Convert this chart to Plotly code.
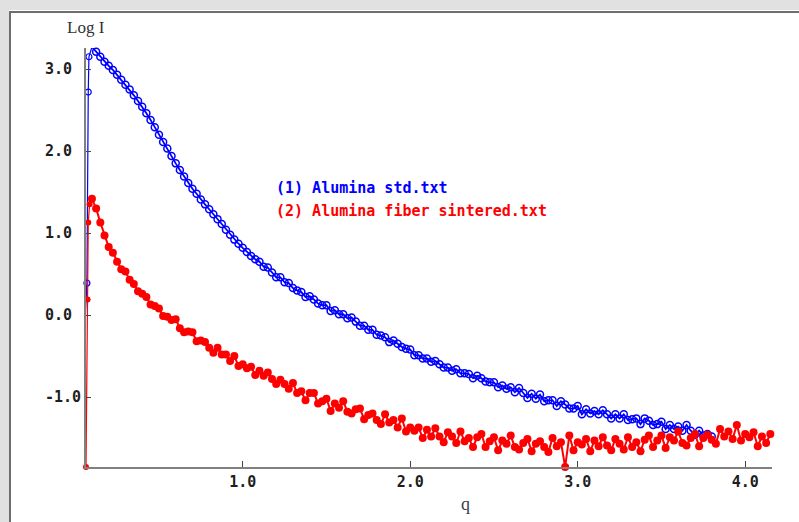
import plotly.graph_objects as go

# ---------------- data ----------------
Q_START = 0.10
Q_STEP = 0.025

# Lead-in points near the beam stop (before the peak)
BLUE_LEAD_Q = [0.058, 0.070, 0.078, 0.082]
BLUE_LEAD_Y = [-0.10, 0.39, 2.72, 3.15]
RED_LEAD_Q = [0.0645, 0.074, 0.078, 0.086]
RED_LEAD_Y = [-1.853, 0.19, 1.13, 1.35]

# (1) Alumina std.txt  -- Log I on regular q grid starting at Q_START
BLUE_Y = [
    3.27, 3.21, 3.15, 3.09, 3.04, 2.99, 2.93, 2.87, 2.81, 2.75,
    2.68, 2.61, 2.54, 2.46, 2.38, 2.29, 2.20, 2.11, 2.03, 1.94,
    1.85, 1.77, 1.69, 1.61, 1.54, 1.48, 1.41, 1.35, 1.29, 1.23,
    1.17, 1.11, 1.04, 0.98, 0.92, 0.87, 0.82, 0.77, 0.72, 0.68,
    0.65, 0.59, 0.58, 0.52, 0.46, 0.46, 0.40, 0.39, 0.33, 0.30,
    0.28, 0.22, 0.23, 0.19, 0.14, 0.12, 0.12, 0.05, 0.06, 0.01,
    0.01, -0.04, -0.03, -0.08, -0.13, -0.13, -0.18, -0.18, -0.24, -0.25,
    -0.27, -0.33, -0.31, -0.35, -0.39, -0.41, -0.42, -0.49, -0.49, -0.53,
    -0.53, -0.57, -0.56, -0.60, -0.64, -0.64, -0.68, -0.66, -0.71, -0.71,
    -0.72, -0.77, -0.74, -0.77, -0.81, -0.82, -0.82, -0.88, -0.86, -0.90,
    -0.88, -0.94, -0.89, -0.95, -1.01, -0.96, -1.02, -0.97, -1.05, -1.04,
    -1.04, -1.11, -1.05, -1.09, -1.14, -1.14, -1.11, -1.21, -1.15, -1.20,
    -1.17, -1.21, -1.16, -1.21, -1.26, -1.21, -1.26, -1.21, -1.28, -1.27,
    -1.26, -1.33, -1.26, -1.29, -1.34, -1.33, -1.30, -1.39, -1.34, -1.39,
    -1.36, -1.41, -1.34, -1.41, -1.46, -1.41, -1.47, -1.45, -1.48,
]

# (2) Alumina fiber sintered.txt -- Log I on the same q grid
RED_Y = [
    1.42, 1.30, 1.13, 0.97, 0.83, 0.76, 0.65, 0.56, 0.53, 0.43,
    0.38, 0.29, 0.26, 0.22, 0.13, 0.11, 0.08, -0.01, -0.02, -0.06,
    -0.05, -0.16, -0.21, -0.20, -0.21, -0.32, -0.31, -0.33, -0.40, -0.46,
    -0.40, -0.48, -0.48, -0.56, -0.50, -0.62, -0.60, -0.65, -0.63, -0.73,
    -0.68, -0.74, -0.70, -0.78, -0.84, -0.79, -0.84, -0.90, -0.83, -0.95,
    -0.93, -1.04, -0.95, -0.95, -1.08, -1.05, -1.02, -1.17, -1.08, -1.13,
    -1.05, -1.18, -1.20, -1.15, -1.14, -1.27, -1.22, -1.20, -1.28, -1.33,
    -1.21, -1.31, -1.28, -1.37, -1.26, -1.42, -1.37, -1.41, -1.37, -1.50,
    -1.40, -1.48, -1.38, -1.48, -1.55, -1.43, -1.48, -1.56, -1.42, -1.54,
    -1.50, -1.61, -1.49, -1.45, -1.61, -1.54, -1.49, -1.65, -1.53, -1.57,
    -1.47, -1.61, -1.64, -1.56, -1.51, -1.66, -1.57, -1.54, -1.61, -1.67,
    -1.50, -1.60, -1.55, -1.853, -1.47, -1.65, -1.55, -1.58, -1.51, -1.66,
    -1.53, -1.60, -1.49, -1.59, -1.65, -1.51, -1.57, -1.64, -1.49, -1.61,
    -1.55, -1.66, -1.52, -1.47, -1.61, -1.53, -1.47, -1.62, -1.49, -1.53,
    -1.42, -1.56, -1.59, -1.50, -1.45, -1.60, -1.50, -1.46, -1.52, -1.57,
    -1.39, -1.48, -1.42, -1.51, -1.34, -1.53, -1.45, -1.49, -1.43, -1.60,
    -1.48, -1.56, -1.45,
]

SERIES_NAMES = ["(1) Alumina std.txt", "(2) Alumina fiber sintered.txt"]
X_TICKS = [1.0, 2.0, 3.0, 4.0]
X_TICK_TEXT = ["1.0", "2.0", "3.0", "4.0"]
Y_TICKS = [-1.0, 0.0, 1.0, 2.0, 3.0]
Y_TICK_TEXT = ["-1.0", "0.0\u00a0", "1.0\u00a0", "2.0\u00a0", "3.0\u00a0"]
X_TITLE = "q"
Y_TITLE = "Log I"

BLUE = "#0000ff"
RED = "#ff0000"

# ---------------- figure ----------------
W, H = 799, 522
ML, MR, MT, MB = 86, 27, 48, 55
PW, PH = W - ML - MR, H - MT - MB


def px_x(p):
    return (p - ML) / PW


def px_y(p):
    return (H - MB - p) / PH


fig = go.Figure()

blue_line = dict(color=BLUE, width=1.8)
blue_marker = dict(symbol="circle-open", size=7, color=BLUE, line=dict(width=1.5, color=BLUE))
red_line = dict(color=RED, width=2)
red_marker = dict(symbol="circle", size=8, color=RED)

fig.add_trace(go.Scatter(
    x=BLUE_LEAD_Q + [Q_START], y=BLUE_LEAD_Y + [BLUE_Y[0]],
    mode="lines+markers", line=dict(color=BLUE, width=1.2),
    marker=dict(symbol="circle-open", size=6, color=BLUE, line=dict(width=1.2, color=BLUE)),
    name=SERIES_NAMES[0], showlegend=False, cliponaxis=False))
fig.add_trace(go.Scatter(
    x0=Q_START, dx=Q_STEP, y=BLUE_Y,
    mode="lines+markers", line=blue_line, marker=blue_marker,
    name=SERIES_NAMES[0], showlegend=False, cliponaxis=False))
fig.add_trace(go.Scatter(
    x=RED_LEAD_Q + [Q_START], y=RED_LEAD_Y + [RED_Y[0]],
    mode="lines+markers", line=dict(color=RED, width=1.2),
    marker=dict(symbol="circle", size=6, color=RED),
    name=SERIES_NAMES[1], showlegend=False, cliponaxis=False))
fig.add_trace(go.Scatter(
    x0=Q_START, dx=Q_STEP, y=RED_Y,
    mode="lines+markers", line=red_line, marker=red_marker,
    name=SERIES_NAMES[1], showlegend=False, cliponaxis=False))

tick_font = dict(family="DejaVu Sans Mono", size=15, color="#1e1e1e", weight="bold")

fig.update_xaxes(
    range=[0.0645, 4.160], tickvals=X_TICKS, ticktext=X_TICK_TEXT,
    ticks="inside", ticklen=6, tickwidth=1, tickcolor="#444444",
    showline=True, linecolor="#808080", linewidth=2,
    showgrid=False, zeroline=False, tickfont=tick_font)
fig.update_yaxes(
    range=[-1.853, 3.257], tickvals=Y_TICKS, ticktext=Y_TICK_TEXT,
    ticks="inside", ticklen=5, tickwidth=1, tickcolor="#444444",
    showline=True, linecolor="#808080", linewidth=2,
    showgrid=False, zeroline=False, tickfont=tick_font)

shapes = [
    dict(type="rect", xref="paper", yref="paper", layer="below",
         x0=px_x(9), x1=px_x(830), y0=px_y(560), y1=px_y(10),
         fillcolor="white", line=dict(width=0)),
    dict(type="line", xref="paper", yref="paper", layer="below",
         x0=px_x(9), x1=px_x(830), y0=px_y(12), y1=px_y(12),
         line=dict(color="#6e6e6e", width=2)),
    dict(type="line", xref="paper", yref="paper", layer="below",
         x0=px_x(10), x1=px_x(10), y0=px_y(11), y1=px_y(560),
         line=dict(color="#6e6e6e", width=2)),
]

annotations = [
    dict(text=Y_TITLE, xref="paper", yref="paper", x=px_x(86), y=px_y(28),
         xanchor="center", yanchor="middle", showarrow=False,
         font=dict(family="Liberation Serif", size=17, color="#333333")),
    dict(text=X_TITLE, xref="paper", yref="paper", x=px_x(465), y=px_y(504),
         xanchor="center", yanchor="middle", showarrow=False,
         font=dict(family="Liberation Serif", size=18, color="#3a3a50")),
    dict(text=SERIES_NAMES[0], xref="paper", yref="paper", x=px_x(274), y=px_y(188),
         xanchor="left", yanchor="middle", showarrow=False,
         font=dict(family="DejaVu Sans Mono", size=15, color=BLUE, weight="bold")),
    dict(text=SERIES_NAMES[1], xref="paper", yref="paper", x=px_x(274), y=px_y(211),
         xanchor="left", yanchor="middle", showarrow=False,
         font=dict(family="DejaVu Sans Mono", size=15, color=RED, weight="bold")),
]

fig.update_layout(
    width=W, height=H,
    margin=dict(l=ML, r=MR, t=MT, b=MB, pad=0, autoexpand=False),
    paper_bgcolor="#e1e1e1", plot_bgcolor="white",
    shapes=shapes, annotations=annotations, showlegend=False,
)

fig.write_html(
    "out.html",
    config={"displayModeBar": False},
    post_script="document.body.style.margin='0px';document.body.style.overflow='hidden';",
)
